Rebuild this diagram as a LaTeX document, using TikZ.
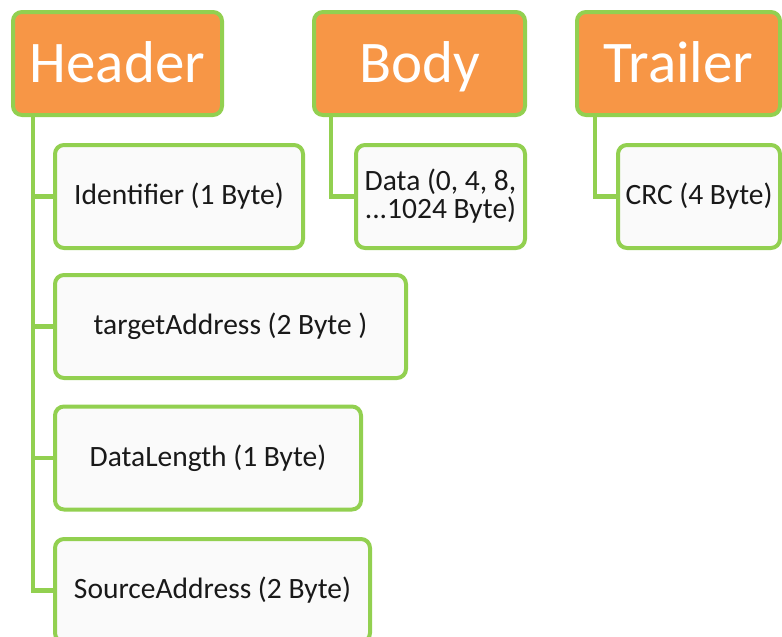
\documentclass[tikz,border=0pt]{standalone}
\usepackage{fontspec}
\setmainfont{Carlito}
\usepackage{xcolor}
\usepackage{tikz}
\definecolor{partorange}{HTML}{F79646}
\definecolor{framegreen}{HTML}{92D050}

\begin{document}
\begin{tikzpicture}
        [x=1pt,y=-1pt,
         every node/.style={draw=framegreen,line width=4pt,rounded corners=9pt,inner sep=2pt,minimum height=103pt},
         part/.style={fill=partorange,text=white,font=\fontsize{59}{60}\selectfont,text height=38pt,text depth=0pt},
         field/.style={fill=black!2,text=black!90,font=\fontsize{29.5}{28}\selectfont},
         link/.style={draw=framegreen,line width=4.5pt}]
        \useasboundingbox (0,0) rectangle (782,637);
        \node[part,minimum width=209pt] (hdr) at (117.5,63.5) {Header};
        \node[part,minimum width=211pt] (body) at (419.5,63.5) {Body};
        \node[part,minimum width=203pt] (trl) at (678.5,63.5) {Trailer};
        \node[field,minimum width=248pt] (ident) at (179,196.5) {Identifier (1 Byte)};
        \node[field,minimum width=351pt] (target) at (230.5,326.5) {targetAddress (2 Byte )};
        \node[field,minimum width=306pt] (dlen) at (208,458) {DataLength (1 Byte)};
        \node[field,minimum width=315pt] (source) at (212.5,590.5) {SourceAddress (2 Byte)};
        \node[field,minimum width=169pt,align=center] (data) at (440.5,196.5) {Data (0, 4, 8,\\...1024 Byte)};
        \node[field,minimum width=162pt] (crc) at (699,196.5) {CRC (4 Byte)};

        \foreach \to in {ident,target,dlen,source} \draw[link] ([xshift=22pt]hdr.south west) |- (\to.west);
        \draw[link] ([xshift=19pt]body.south west) |- (data.west);
        \draw[link] ([xshift=20pt]trl.south west) |- (crc.west);
    \end{tikzpicture}
\end{document}
